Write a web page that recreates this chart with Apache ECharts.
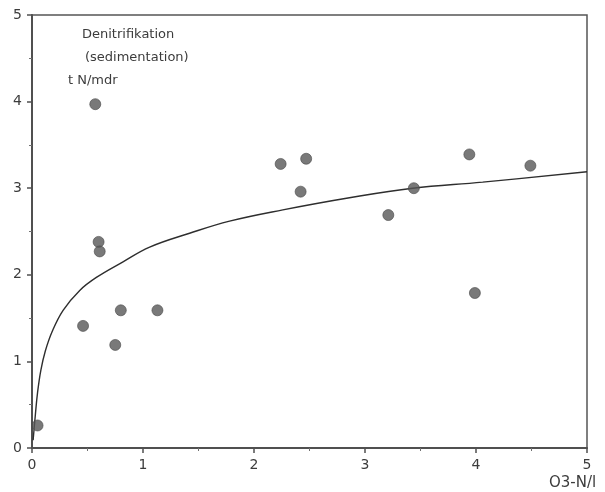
<!DOCTYPE html>
<html>
<head>
<meta charset="utf-8">
<script src="https://cdn.jsdelivr.net/npm/echarts@6/dist/echarts.min.js"></script>
<style>
  html, body { margin: 0; padding: 0; background: #fff; }
  #chart { width: 605px; height: 492px; }
</style>
</head>
<body>
<div id="chart"></div>
<script>
// Nitrate concentration (x) vs. denitrification (y), measured stations
const obsX = [0.05, 0.57, 0.60, 0.61, 0.46, 0.75, 0.80, 1.13, 2.24, 2.47, 2.42, 3.21, 3.44, 3.94, 3.99, 4.49];
const obsY = [0.26, 3.97, 2.38, 2.27, 1.41, 1.19, 1.59, 1.59, 3.28, 3.34, 2.96, 2.69, 3.00, 3.39, 1.79, 3.26];

// Fitted saturation curve, traced points
const fitX = [0.01, 0.03, 0.05, 0.08, 0.12, 0.18, 0.28, 0.43, 0.58, 0.82, 1.06, 1.42, 1.78, 2.26, 2.86, 3.43, 4.06, 5.00];
const fitY = [0.09, 0.38, 0.64, 0.90, 1.12, 1.34, 1.59, 1.82, 1.97, 2.15, 2.32, 2.48, 2.62, 2.75, 2.89, 3.00, 3.07, 3.19];

const xTicks = [0, 1, 2, 3, 4, 5];
const yTicks = [0, 1, 2, 3, 4, 5];

const titleLines = ['Denitrifikation', '(sedimentation)', 't N/mdr'];
const xUnit = 'O3-N/l';

const FONT = 'DejaVu Sans';
const INK = '#3c3c3c';

const chart = echarts.init(document.getElementById('chart'));

const axisCommon = {
  type: 'value',
  min: 0,
  max: 5,
  interval: 1,
  axisLine: { show: true, lineStyle: { color: '#505050', width: 2 } },
  axisTick: { show: true, length: 5, lineStyle: { color: '#505050', width: 1.5 } },
  minorTick: { show: true, splitNumber: 2, length: 3, lineStyle: { color: '#707070', width: 1 } },
  splitLine: { show: false },
  axisLabel: { color: INK, fontFamily: FONT, fontSize: 14 }
};

chart.setOption({
  animation: false,
  backgroundColor: '#ffffff',
  grid: {
    left: 32, right: 18, top: 15, bottom: 44,
    show: true, borderColor: '#555555', borderWidth: 1.5
  },
  xAxis: Object.assign({}, axisCommon, {
    axisLabel: Object.assign({}, axisCommon.axisLabel, {
      margin: 10,
      formatter: v => xTicks.includes(v) ? String(v) : ''
    })
  }),
  yAxis: Object.assign({}, axisCommon, {
    axisLabel: Object.assign({}, axisCommon.axisLabel, {
      margin: 10,
      formatter: v => yTicks.includes(v) ? String(v) : ''
    })
  }),
  graphic: [
    { type: 'text', left: 82, top: 28, style: { text: titleLines[0], fill: INK, font: '13px "' + FONT + '"' } },
    { type: 'text', left: 85, top: 51, style: { text: titleLines[1], fill: INK, font: '13px "' + FONT + '"' } },
    { type: 'text', left: 68, top: 74, style: { text: titleLines[2], fill: INK, font: '13px "' + FONT + '"' } },
    { type: 'text', left: 549, top: 476, style: { text: xUnit, fill: INK, font: '15px "' + FONT + '"' } }
  ],
  series: [
    {
      type: 'line',
      data: fitX.map((x, i) => [x, fitY[i]]),
      smooth: 0.4,
      showSymbol: false,
      lineStyle: { color: '#2e2e2e', width: 1.4 },
      z: 2
    },
    {
      type: 'scatter',
      data: obsX.map((x, i) => [x, obsY[i]]),
      symbol: 'circle',
      symbolSize: 11,
      itemStyle: { color: '#585858', borderColor: '#4a4a4a', borderWidth: 0.8 },
      z: 3
    }
  ]
});
</script>
</body>
</html>
